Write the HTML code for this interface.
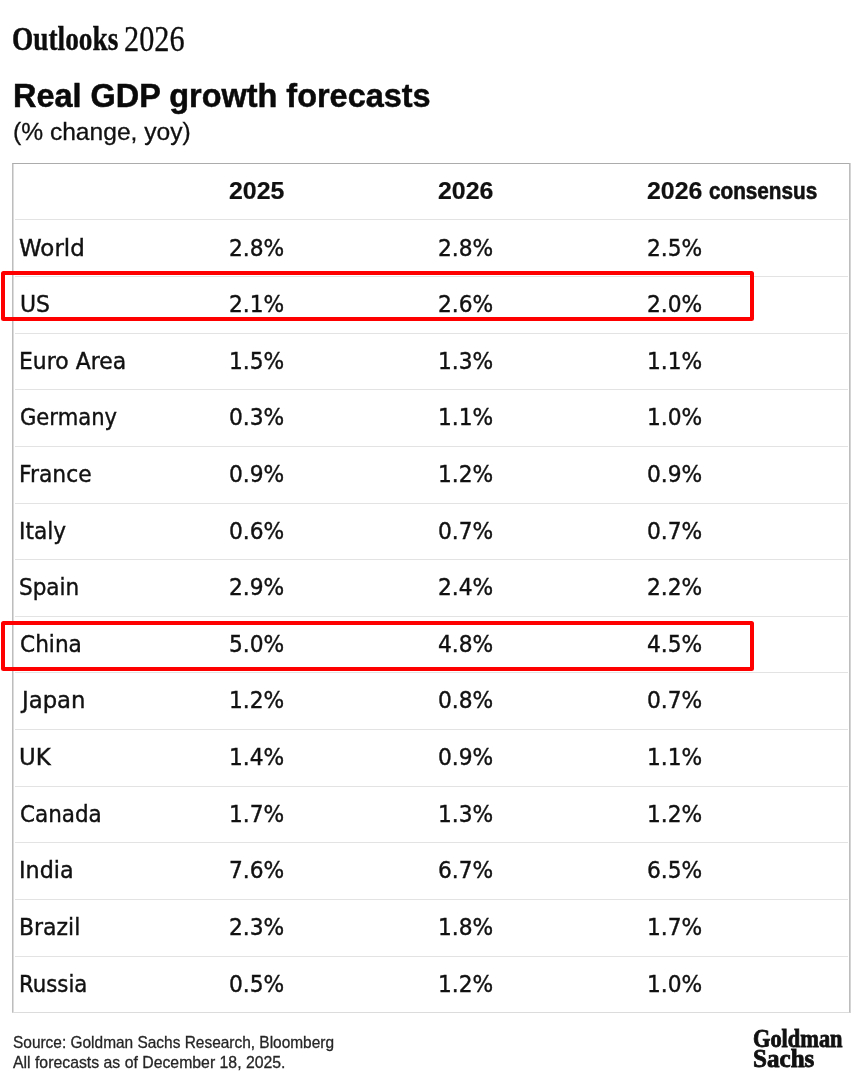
<!DOCTYPE html>
<html><head><meta charset="utf-8"><title>Real GDP growth forecasts</title>
<style>
html,body{margin:0;padding:0;background:#fff;}
body{width:866px;height:1082px;position:relative;overflow:hidden;font-family:"DejaVu Sans","Liberation Sans",sans-serif;color:#111;}
.txt{position:absolute;left:0;top:0;width:866px;height:1082px;filter:grayscale(1);}
.a{position:absolute;white-space:nowrap;transform-origin:0 0;}
.ol{left:12px;top:16px;font-family:"Liberation Serif",serif;font-weight:bold;font-size:34.6px;line-height:44px;color:#0d0d0d;transform:scaleX(0.79);-webkit-text-stroke:0.4px #0d0d0d;}
.yr{left:124px;top:16.5px;font-family:"Liberation Serif",serif;font-size:35.4px;line-height:44px;color:#0d0d0d;transform:scaleX(0.855);-webkit-text-stroke:0.3px #0d0d0d;}
.title{left:13px;top:76px;font-family:"Liberation Sans",sans-serif;font-size:32.45px;font-weight:bold;line-height:40px;color:#0a0a0a;-webkit-text-stroke:0.5px #0a0a0a;}
.sub{left:13px;top:117px;font-family:"Liberation Sans",sans-serif;font-size:24.6px;line-height:30px;color:#111;-webkit-text-stroke:0.3px #111;}
.tbl{left:12px;top:163px;width:836px;height:848px;border:1px solid #bdbdbd;border-top-color:#acacac;border-bottom-color:#dcdcdc;box-shadow:inset 1px 0 0 #dcdcdc,1px 0 0 #d4d4d4;}
.sep{position:absolute;left:15px;width:833px;height:1px;background:#e3e3e3;}
.cell{position:absolute;transform-origin:0 0;-webkit-text-stroke:0.4px #111;font-family:"DejaVu Sans",sans-serif;font-size:22.5px;line-height:30px;color:#111;white-space:nowrap;}
.hd{font-family:"Liberation Sans",sans-serif;font-weight:bold;font-size:24.2px;-webkit-text-stroke:0.2px #111;}
.box{position:absolute;left:1px;width:745px;height:42px;border:4px solid #ff0000;border-radius:2.5px;}
.f1{left:13px;top:1031.8px;font-family:"Liberation Sans",sans-serif;font-size:16.2px;line-height:20px;color:#262626;transform:scaleX(0.954);-webkit-text-stroke:0.3px #262626;}
.f2{left:13px;top:1051.8px;font-family:"Liberation Sans",sans-serif;font-size:16.2px;line-height:20px;color:#262626;transform:scaleX(0.977);-webkit-text-stroke:0.3px #262626;}
.g1{left:753px;top:1025px;font-family:"Liberation Serif",serif;font-weight:bold;font-size:24.6px;line-height:28px;color:#111;transform:scaleX(0.91);-webkit-text-stroke:0.8px #111;}
.g2{left:753px;top:1045px;font-family:"Liberation Serif",serif;font-weight:bold;font-size:24.6px;line-height:28px;color:#111;transform:scaleX(1.02);-webkit-text-stroke:0.8px #111;}
</style></head><body>
<div class="txt">
<div class="a ol">Outlooks</div><div class="a yr">2026</div>
<div class="a title">Real GDP growth forecasts</div>
<div class="a sub">(% change, yoy)</div>
<div class="a tbl"></div>
<div class="sep" style="top:219px"></div>
<div class="sep" style="top:276px"></div>
<div class="sep" style="top:333px"></div>
<div class="sep" style="top:389px"></div>
<div class="sep" style="top:446px"></div>
<div class="sep" style="top:503px"></div>
<div class="sep" style="top:559px"></div>
<div class="sep" style="top:616px"></div>
<div class="sep" style="top:672px"></div>
<div class="sep" style="top:729px"></div>
<div class="sep" style="top:786px"></div>
<div class="sep" style="top:842px"></div>
<div class="sep" style="top:899px"></div>
<div class="sep" style="top:956px"></div>
<div class="cell hd" style="left:229.0px;top:175.5px;transform:scaleX(1.03)">2025</div>
<div class="cell hd" style="left:438.0px;top:175.5px;transform:scaleX(1.03)">2026</div>
<div class="cell hd" style="left:647.0px;top:175.5px;transform:scaleX(1.03)">2026</div>
<div class="cell hd" style="left:709px;top:175.5px;font-size:23px;transform:scaleX(0.9);-webkit-text-stroke:0.6px #111">consensus</div>
<div class="cell" style="left:19.2px;top:232.5px;transform:scaleX(1.020)">World</div>
<div class="cell" style="left:229.3px;top:232.5px;transform:scaleX(0.9663333333333333)">2.8%</div>
<div class="cell" style="left:438.3px;top:232.5px;transform:scaleX(0.9663333333333333)">2.8%</div>
<div class="cell" style="left:647.3px;top:232.5px;transform:scaleX(0.9663333333333333)">2.5%</div>
<div class="cell" style="left:19.7px;top:289.2px;transform:scaleX(0.976)">US</div>
<div class="cell" style="left:229.3px;top:289.2px;transform:scaleX(0.9663333333333333)">2.1%</div>
<div class="cell" style="left:438.3px;top:289.2px;transform:scaleX(0.9663333333333333)">2.6%</div>
<div class="cell" style="left:647.3px;top:289.2px;transform:scaleX(0.9663333333333333)">2.0%</div>
<div class="cell" style="left:19.3px;top:345.7px;transform:scaleX(0.974)">Euro Area</div>
<div class="cell" style="left:229.3px;top:345.7px;transform:scaleX(0.9663333333333333)">1.5%</div>
<div class="cell" style="left:438.3px;top:345.7px;transform:scaleX(0.9663333333333333)">1.3%</div>
<div class="cell" style="left:647.3px;top:345.7px;transform:scaleX(0.9663333333333333)">1.1%</div>
<div class="cell" style="left:20.4px;top:402.2px;transform:scaleX(0.938)">Germany</div>
<div class="cell" style="left:229.3px;top:402.2px;transform:scaleX(0.9663333333333333)">0.3%</div>
<div class="cell" style="left:438.3px;top:402.2px;transform:scaleX(0.9663333333333333)">1.1%</div>
<div class="cell" style="left:647.3px;top:402.2px;transform:scaleX(0.9663333333333333)">1.0%</div>
<div class="cell" style="left:18.8px;top:459.2px;transform:scaleX(0.970)">France</div>
<div class="cell" style="left:229.3px;top:459.2px;transform:scaleX(0.9663333333333333)">0.9%</div>
<div class="cell" style="left:438.3px;top:459.2px;transform:scaleX(0.9663333333333333)">1.2%</div>
<div class="cell" style="left:647.3px;top:459.2px;transform:scaleX(0.9663333333333333)">0.9%</div>
<div class="cell" style="left:18.9px;top:515.7px;transform:scaleX(0.963)">Italy</div>
<div class="cell" style="left:229.3px;top:515.7px;transform:scaleX(0.9663333333333333)">0.6%</div>
<div class="cell" style="left:438.3px;top:515.7px;transform:scaleX(0.9663333333333333)">0.7%</div>
<div class="cell" style="left:647.3px;top:515.7px;transform:scaleX(0.9663333333333333)">0.7%</div>
<div class="cell" style="left:18.9px;top:572.2px;transform:scaleX(0.958)">Spain</div>
<div class="cell" style="left:229.3px;top:572.2px;transform:scaleX(0.9663333333333333)">2.9%</div>
<div class="cell" style="left:438.3px;top:572.2px;transform:scaleX(0.9663333333333333)">2.4%</div>
<div class="cell" style="left:647.3px;top:572.2px;transform:scaleX(0.9663333333333333)">2.2%</div>
<div class="cell" style="left:19.6px;top:628.7px;transform:scaleX(0.963)">China</div>
<div class="cell" style="left:229.3px;top:628.7px;transform:scaleX(0.9663333333333333)">5.0%</div>
<div class="cell" style="left:438.3px;top:628.7px;transform:scaleX(0.9663333333333333)">4.8%</div>
<div class="cell" style="left:647.3px;top:628.7px;transform:scaleX(0.9663333333333333)">4.5%</div>
<div class="cell" style="left:21.9px;top:685.2px;transform:scaleX(1.012)">Japan</div>
<div class="cell" style="left:229.3px;top:685.2px;transform:scaleX(0.9663333333333333)">1.2%</div>
<div class="cell" style="left:438.3px;top:685.2px;transform:scaleX(0.9663333333333333)">0.8%</div>
<div class="cell" style="left:647.3px;top:685.2px;transform:scaleX(0.9663333333333333)">0.7%</div>
<div class="cell" style="left:18.9px;top:742.2px;transform:scaleX(1.015)">UK</div>
<div class="cell" style="left:229.3px;top:742.2px;transform:scaleX(0.9663333333333333)">1.4%</div>
<div class="cell" style="left:438.3px;top:742.2px;transform:scaleX(0.9663333333333333)">0.9%</div>
<div class="cell" style="left:647.3px;top:742.2px;transform:scaleX(0.9663333333333333)">1.1%</div>
<div class="cell" style="left:20.1px;top:798.7px;transform:scaleX(0.955)">Canada</div>
<div class="cell" style="left:229.3px;top:798.7px;transform:scaleX(0.9663333333333333)">1.7%</div>
<div class="cell" style="left:438.3px;top:798.7px;transform:scaleX(0.9663333333333333)">1.3%</div>
<div class="cell" style="left:647.3px;top:798.7px;transform:scaleX(0.9663333333333333)">1.2%</div>
<div class="cell" style="left:19.1px;top:855.2px;transform:scaleX(0.989)">India</div>
<div class="cell" style="left:229.3px;top:855.2px;transform:scaleX(0.9663333333333333)">7.6%</div>
<div class="cell" style="left:438.3px;top:855.2px;transform:scaleX(0.9663333333333333)">6.7%</div>
<div class="cell" style="left:647.3px;top:855.2px;transform:scaleX(0.9663333333333333)">6.5%</div>
<div class="cell" style="left:19.1px;top:912.2px;transform:scaleX(0.976)">Brazil</div>
<div class="cell" style="left:229.3px;top:912.2px;transform:scaleX(0.9663333333333333)">2.3%</div>
<div class="cell" style="left:438.3px;top:912.2px;transform:scaleX(0.9663333333333333)">1.8%</div>
<div class="cell" style="left:647.3px;top:912.2px;transform:scaleX(0.9663333333333333)">1.7%</div>
<div class="cell" style="left:19.2px;top:968.7px;transform:scaleX(0.944)">Russia</div>
<div class="cell" style="left:229.3px;top:968.7px;transform:scaleX(0.9663333333333333)">0.5%</div>
<div class="cell" style="left:438.3px;top:968.7px;transform:scaleX(0.9663333333333333)">1.2%</div>
<div class="cell" style="left:647.3px;top:968.7px;transform:scaleX(0.9663333333333333)">1.0%</div>
</div>
<div class="box" style="top:271px"></div>
<div class="box" style="top:621px"></div>
<div class="txt">
<div class="a f1">Source: Goldman Sachs Research, Bloomberg</div>
<div class="a f2">All forecasts as of December 18, 2025.</div>
<div class="a g1">Goldman</div>
<div class="a g2">Sachs</div>
</div>
</body></html>
